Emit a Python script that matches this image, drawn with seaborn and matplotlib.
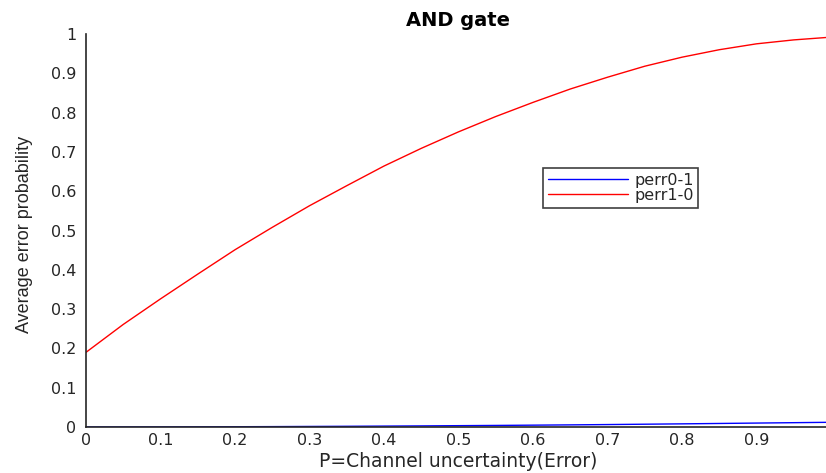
import numpy as np
import pandas as pd
import matplotlib
matplotlib.use("Agg")
import matplotlib.pyplot as plt
import seaborn as sns

# Kanal-Unsicherheit P und die beiden mittleren Fehlerwahrscheinlichkeiten
p_values = [0.00, 0.05, 0.10, 0.15, 0.20, 0.25, 0.30, 0.35, 0.40, 0.45, 0.50,
            0.55, 0.60, 0.65, 0.70, 0.75, 0.80, 0.85, 0.90, 0.95, 1.00]
perr01 = [0.0000, 0.0001, 0.0002, 0.0004, 0.0007, 0.0010, 0.0014, 0.0018, 0.0023, 0.0028, 0.0034,
          0.0040, 0.0047, 0.0054, 0.0062, 0.0071, 0.0080, 0.0090, 0.0100, 0.0110, 0.0120]
perr10 = [0.190, 0.261, 0.326, 0.389, 0.451, 0.508, 0.563, 0.614, 0.664, 0.709, 0.751,
          0.790, 0.826, 0.860, 0.890, 0.918, 0.941, 0.960, 0.975, 0.985, 0.992]
tick_vals = [0, 0.1, 0.2, 0.3, 0.4, 0.5, 0.6, 0.7, 0.8, 0.9, 1]
tick_labels = ["0", "0.1", "0.2", "0.3", "0.4", "0.5", "0.6", "0.7", "0.8", "0.9", "1"]

df = pd.DataFrame({
    "p": p_values * 2,
    "perr": perr01 + perr10,
    "serie": ["perr0-1"] * len(p_values) + ["perr1-0"] * len(p_values),
})

sns.set_theme(style="white")
plt.rcParams["font.family"] = ["DejaVu Sans"]
axis_col = "#262626"

fig = plt.figure(figsize=(8.26, 4.73), dpi=100)
# Achse geht rechts etwas über den Bildrand hinaus (wie im Original abgeschnitten)
ax = fig.add_axes([86 / 826, 46 / 473, 745 / 826, 393 / 473])

sns.lineplot(data=df, x="p", y="perr", hue="serie",
             palette={"perr0-1": "#0000ff", "perr1-0": "#ff0000"},
             linewidth=1.0, ax=ax, legend=False)

ax.set_xlim(0, 1)
ax.set_ylim(0, 1)
ax.set_xticks(tick_vals)
ax.set_xticklabels(tick_labels)
ax.set_yticks(tick_vals)
ax.set_yticklabels(tick_labels)
ax.tick_params(direction="in", length=5, width=1.0, colors=axis_col,
               labelsize=11.5, labelcolor=axis_col)
ax.tick_params(axis="y", pad=7)
ax.tick_params(axis="x", pad=4)

for side in ["top", "right"]:
    ax.spines[side].set_visible(False)
for side in ["left", "bottom"]:
    ax.spines[side].set_color(axis_col)
    ax.spines[side].set_linewidth(1.2)

ax.set_title("AND gate", fontsize=14, fontweight="bold", color="black", pad=6)
ax.set_xlabel("P=Channel uncertainty(Error)", fontsize=13.5, color=axis_col)
ax.xaxis.set_label_coords(0.5, -0.064)
ax.set_ylabel("Average error probability", fontsize=13, color=axis_col,
              family=["Liberation Sans", "DejaVu Sans"])
ax.yaxis.set_label_coords(-0.071, 0.49)

handles = ax.get_lines()[:2]
leg = ax.legend(handles, ["perr0-1", "perr1-0"], loc="upper left",
                bbox_to_anchor=((543 - 86) / 745, (427 - 168) / 393),
                borderaxespad=0, fontsize=11.5, frameon=True, fancybox=False,
                framealpha=1, edgecolor="#404040", handlelength=5.0,
                handletextpad=0.4, labelspacing=0.0, borderpad=0.3)
leg.get_frame().set_linewidth(1.2)

ax.grid(False)
plt.savefig("out.png", dpi=100)
